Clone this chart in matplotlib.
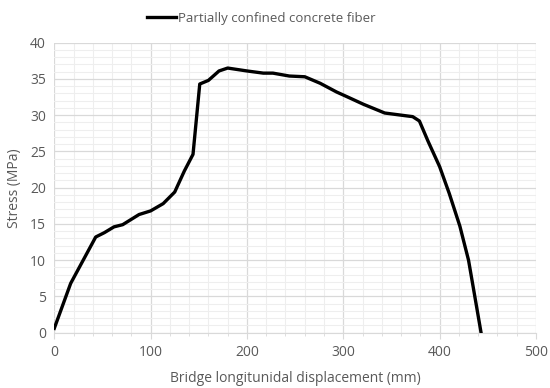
import matplotlib.pyplot as plt
from matplotlib.ticker import MultipleLocator

plt.rcParams['font.family'] = ['Open Sans', 'DejaVu Sans']

# data
displacement = [0, 17, 43, 52, 62, 71, 88, 100, 113, 125, 135, 144, 151, 160, 171, 180,
                200, 217, 227, 244, 260, 276, 293, 303, 321, 343, 366, 372, 379, 388,
                400, 410, 421, 430, 436, 443]
stress = [0.6, 6.8, 13.2, 13.8, 14.6, 14.9, 16.3, 16.8, 17.8, 19.4, 22.3, 24.6, 34.3, 34.8,
          36.1, 36.5, 36.1, 35.8, 35.8, 35.4, 35.3, 34.4, 33.2, 32.6, 31.5, 30.3, 29.9,
          29.8, 29.2, 26.4, 22.9, 19.2, 14.7, 10.0, 5.4, 0]

grey = "#595959"

fig = plt.figure(figsize=(5.5, 3.88), dpi=100)
ax = fig.add_axes([0.0987, 0.1425, 0.8758, 0.7475])

ax.plot(displacement, stress, color="black", linewidth=2.4,
        label="Partially confined concrete fiber", zorder=3,
        solid_joinstyle="round")

ax.set_xlim(0, 500)
ax.set_ylim(0, 40)
ax.xaxis.set_major_locator(MultipleLocator(100))
ax.xaxis.set_minor_locator(MultipleLocator(20))
ax.yaxis.set_major_locator(MultipleLocator(5))
ax.yaxis.set_minor_locator(MultipleLocator(1))

ax.grid(which="major", color="#d9d9d9", linewidth=0.9)
ax.grid(which="minor", color="#eeeeee", linewidth=0.8)
ax.set_axisbelow(True)

for s in ["top", "right", "left"]:
    ax.spines[s].set_visible(False)
ax.spines["bottom"].set_color("#d9d9d9")

ax.tick_params(axis="both", which="both", colors="#d9d9d9", labelcolor=grey, labelsize=10)
ax.tick_params(axis="y", which="both", length=0, pad=6)
ax.tick_params(axis="x", which="major", length=4, pad=5)
ax.tick_params(axis="x", which="minor", length=2)

ax.set_xlabel("Bridge longitunidal displacement (mm)", color=grey, fontsize=10, labelpad=8)
ax.set_ylabel("Stress (MPa)", color=grey, fontsize=10, labelpad=6)

fig.legend(loc="upper center", bbox_to_anchor=(0.475, 1.0), frameon=False,
           fontsize=9.5, labelcolor=grey, handlelength=2.2, handletextpad=0.2)

fig.savefig("out.png", dpi=100)
